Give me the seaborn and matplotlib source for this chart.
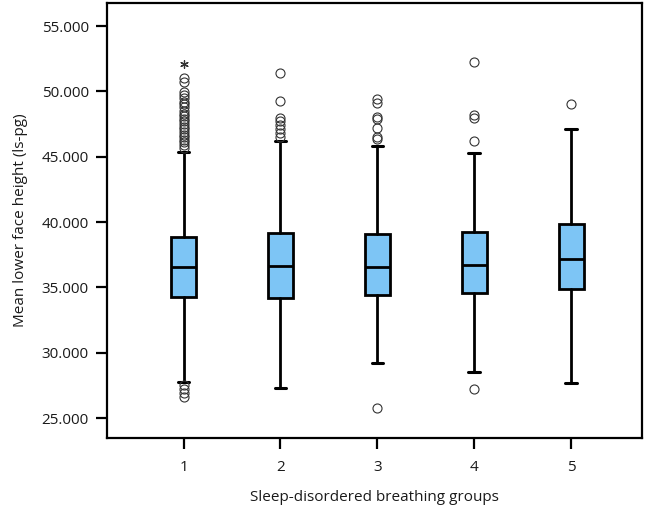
import matplotlib
matplotlib.use("Agg")
import matplotlib.pyplot as plt
import seaborn as sns
from matplotlib.ticker import FormatStrFormatter

# summary values (SPSS-style boxplot)
groups = ["1", "2", "3", "4", "5"]
whislo = [27.79, 27.28, 29.19, 28.55, 27.70]
q1 = [34.29, 34.21, 34.42, 34.55, 34.88]
med = [36.54, 36.65, 36.60, 36.71, 37.17]
q3 = [38.83, 39.20, 39.12, 39.22, 39.85]
whishi = [45.38, 46.20, 45.82, 45.31, 47.12]
fliers = [
    [45.7, 45.9, 46.1, 46.3, 46.5, 46.7, 46.9, 47.1, 47.3, 47.5, 47.7, 47.9,
     48.1, 48.3, 48.5, 48.8, 49.0, 49.2, 49.5, 49.7, 49.95, 50.7, 51.0,
     27.5, 27.2, 26.9, 26.6],
    [46.5, 46.8, 47.1, 47.4, 47.7, 47.96, 49.26, 51.38],
    [46.35, 46.48, 47.17, 47.88, 48.06, 49.1, 49.4, 25.8],
    [46.23, 47.94, 48.19, 52.22, 27.2],
    [49.03],
]
extreme_group = [1]
extreme_value = [52.1]

sns.set_style("ticks")
plt.rcParams['font.family'] = ['Open Sans', 'DejaVu Sans']

fig = plt.figure(figsize=(6.5, 5.09), dpi=100)
ax = fig.add_axes([0.1646, 0.1395, 0.823, 0.8545])

stats = []
for i in range(len(groups)):
    stats.append(dict(whislo=whislo[i], q1=q1[i], med=med[i], q3=q3[i],
                      whishi=whishi[i], fliers=fliers[i], label=groups[i]))

positions = list(range(1, len(groups) + 1))
ax.bxp(stats, positions=positions, widths=0.26, capwidths=0.12, patch_artist=True,
       boxprops=dict(facecolor="#7dc5f5", edgecolor="black", linewidth=2),
       medianprops=dict(color="black", linewidth=2),
       whiskerprops=dict(color="black", linewidth=2),
       capprops=dict(color="black", linewidth=2.2),
       flierprops=dict(marker="o", markerfacecolor="none", markeredgecolor="#333333",
                       markersize=6.5, markeredgewidth=0.8))

sns.scatterplot(x=extreme_group, y=extreme_value, marker=(6, 2, 0), s=30,
                color="#333333", linewidth=0.9, ax=ax)

ax.set_xlim(0.21, 5.73)
ax.set_ylim(23.48, 56.76)
ax.set_yticks([25, 30, 35, 40, 45, 50, 55])
ax.yaxis.set_major_formatter(FormatStrFormatter('%.3f'))
ax.set_xticks(positions)
ax.set_xticklabels(groups)

for s in ax.spines.values():
    s.set_linewidth(1.6)
    s.set_color("black")
ax.tick_params(axis="both", direction="out", length=8, width=1.6, labelsize=11,
               colors="black", labelcolor="#1a1a1a", pad=5)
ax.tick_params(axis="x", pad=8)

ax.set_xlabel("Sleep-disordered breathing groups", fontsize=11, color="#1a1a1a", labelpad=11)
ax.set_ylabel("Mean lower face height (ls-pg)", fontsize=11, color="#1a1a1a", labelpad=10)

fig.savefig("out.png", dpi=100)
